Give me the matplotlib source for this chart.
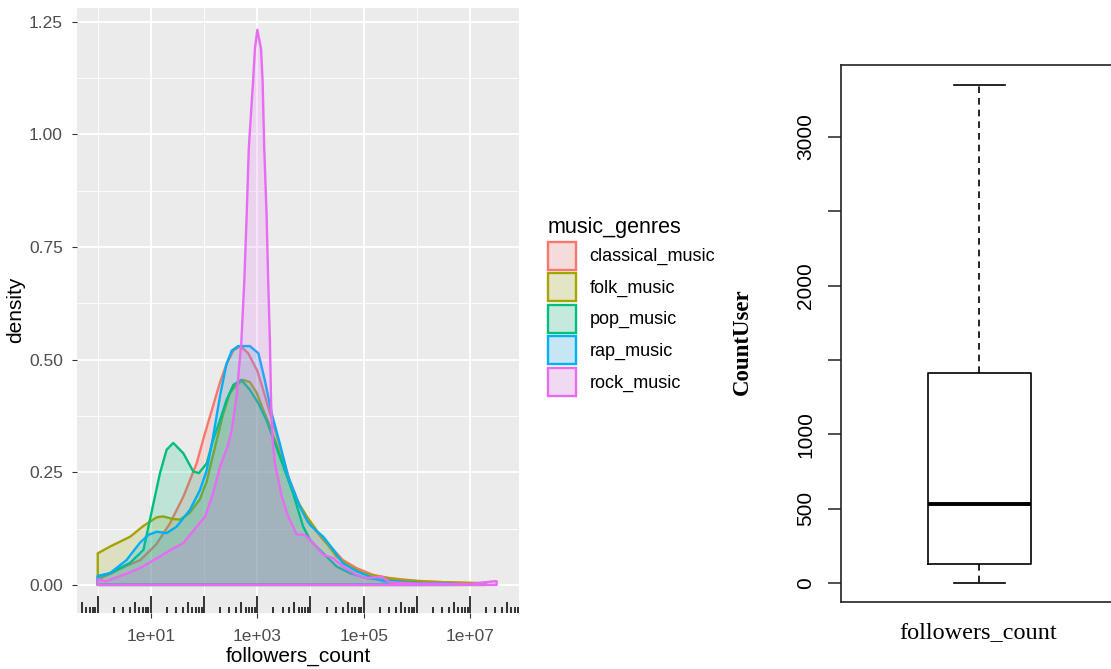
import matplotlib.pyplot as plt
import matplotlib.colors as mcolors
import matplotlib.transforms as mtransforms
from matplotlib.patches import Patch
from matplotlib.ticker import FixedLocator, NullFormatter
import numpy as np

plt.rcParams['font.family'] = ['Liberation Sans', 'DejaVu Sans']

genres = ['classical_music', 'folk_music', 'pop_music', 'rap_music', 'rock_music']
genre_colors = ['#F8766D', '#A3A500', '#00BF7D', '#00B0F6', '#E76BF3']

# density of followers_count per genre, x given as log10(followers_count)
classical_log = [0, 0.25, 0.5, 0.8, 1.1, 1.36, 1.61, 1.86, 2.0, 2.1, 2.2, 2.3, 2.42, 2.55,
                 2.68, 2.83, 3.0, 3.11, 3.24, 3.42, 3.6, 3.8, 4.0, 4.24, 4.43, 4.61, 4.87,
                 5.18, 5.5, 6.0, 6.5, 7.0, 7.3]
classical_dens = [0.012, 0.025, 0.04, 0.055, 0.09, 0.137, 0.196, 0.27, 0.33, 0.37, 0.41,
                  0.45, 0.49, 0.52, 0.53, 0.514, 0.475, 0.433, 0.38, 0.31, 0.235, 0.175,
                  0.135, 0.10, 0.078, 0.055, 0.037, 0.022, 0.015, 0.009, 0.006, 0.004, 0.003]

folk_log = [0, 0.23, 0.61, 0.86, 1.11, 1.23, 1.42, 1.55, 1.73, 1.92, 2.05, 2.11, 2.235,
            2.36, 2.485, 2.61, 2.74, 2.86, 2.99, 3.11, 3.24, 3.42, 3.61, 3.74, 3.93, 4.11,
            4.3, 4.49, 4.74, 4.99, 5.3, 5.68, 6.2, 6.8, 7.28]
folk_dens = [0.07, 0.085, 0.107, 0.131, 0.15, 0.152, 0.146, 0.145, 0.16, 0.19, 0.23, 0.26,
             0.32, 0.38, 0.426, 0.444, 0.455, 0.45, 0.426, 0.389, 0.352, 0.292, 0.228,
             0.189, 0.152, 0.122, 0.093, 0.063, 0.041, 0.026, 0.018, 0.011, 0.007, 0.005,
             0.004]

pop_log = [0, 0.23, 0.61, 0.86, 0.98, 1.075, 1.17, 1.295, 1.42, 1.61, 1.795, 1.9, 2.05,
           2.17, 2.3, 2.42, 2.55, 2.70, 2.86, 3.02, 3.17, 3.33, 3.49, 3.67, 3.86, 3.99,
           4.11, 4.3, 4.49, 4.74, 5.05, 5.37, 5.8, 6.1]
pop_dens = [0.018, 0.026, 0.049, 0.078, 0.144, 0.196, 0.248, 0.30, 0.315, 0.292, 0.252,
            0.248, 0.27, 0.322, 0.366, 0.41, 0.444, 0.455, 0.433, 0.403, 0.366, 0.315,
            0.263, 0.204, 0.13, 0.10, 0.085, 0.063, 0.041, 0.026, 0.015, 0.011, 0.006,
            0.004]

rap_log = [0, 0.23, 0.54, 0.79, 0.95, 1.11, 1.295, 1.48, 1.73, 1.92, 2.05, 2.17, 2.30,
           2.42, 2.52, 2.64, 2.86, 3.02, 3.14, 3.27, 3.42, 3.58, 3.80, 3.93, 4.0, 4.11,
           4.24, 4.43, 4.61, 4.87, 5.12, 5.37, 6.0, 6.68]
rap_dens = [0.02, 0.026, 0.055, 0.093, 0.111, 0.118, 0.115, 0.129, 0.166, 0.21, 0.255,
            0.33, 0.42, 0.49, 0.52, 0.53, 0.53, 0.514, 0.455, 0.381, 0.315, 0.24, 0.174,
            0.144, 0.132, 0.12, 0.107, 0.078, 0.048, 0.030, 0.018, 0.008, 0.004, 0.003]

rock_log = [0, 0.15, 0.48, 0.79, 1.11, 1.42, 1.61, 1.86, 2.02, 2.17, 2.30, 2.45, 2.52,
            2.61, 2.70, 2.755, 2.80, 2.84, 2.92, 2.955, 3.0, 3.07, 3.10, 3.13, 3.175,
            3.205, 3.237, 3.26, 3.29, 3.33, 3.46, 3.58, 3.74, 3.895, 4.05, 4.24, 4.43,
            4.61, 4.87, 5.05, 5.34, 5.49, 6.0, 7.0, 7.45, 7.5]
rock_dens = [0.012, 0.008, 0.022, 0.037, 0.059, 0.081, 0.093, 0.129, 0.152, 0.204, 0.263,
             0.31, 0.344, 0.418, 0.54, 0.673, 0.82, 0.97, 1.117, 1.19, 1.232, 1.19, 1.117,
             0.97, 0.82, 0.673, 0.54, 0.40, 0.32, 0.27, 0.196, 0.152, 0.112, 0.111, 0.093,
             0.067, 0.059, 0.041, 0.022, 0.015, 0.018, 0.006, 0.003, 0.002, 0.008, 0.008]

curve_logs = [classical_log, folk_log, pop_log, rap_log, rock_log]
curve_dens = [classical_dens, folk_dens, pop_dens, rap_dens, rock_dens]

x_breaks = [1e1, 1e3, 1e5, 1e7]
x_break_labels = ['1e+01', '1e+03', '1e+05', '1e+07']
y_breaks = [0.0, 0.25, 0.5, 0.75, 1.0, 1.25]

# boxplot of users per followers_count
box_whislo = 0
box_q1 = 125
box_med = 530
box_q3 = 1415
box_whishi = 3350
box_ticks = [0, 500, 1000, 1500, 2000, 2500, 3000]
box_tick_labels = ['0', '500', '1000', '', '2000', '', '3000']

W, H = 1111, 669
fig = plt.figure(figsize=(W / 100, H / 100), dpi=100)


def px_box(left, top, right, bottom):
    return [left / W, 1 - bottom / H, (right - left) / W, (bottom - top) / H]


# ---- density panel (ggplot look) ----
ax = fig.add_axes(px_box(77, 7.7, 519, 612.6))
ax.set_facecolor('#EBEBEB')
for side in ax.spines.values():
    side.set_visible(False)
ax.set_xscale('log')
ax.set_xlim(10 ** -0.39, 10 ** 7.92)
ax.set_ylim(-0.0615, 1.281)

ax.xaxis.set_major_locator(FixedLocator(x_breaks))
ax.set_xticklabels(x_break_labels)
ax.xaxis.set_minor_locator(FixedLocator([1e0, 1e2, 1e4, 1e6]))
ax.xaxis.set_minor_formatter(NullFormatter())
ax.set_yticks(y_breaks)
ax.set_yticklabels(['0.00', '0.25', '0.50', '0.75', '1.00', '1.25'])
ax.yaxis.set_minor_locator(FixedLocator([0.125, 0.375, 0.625, 0.875, 1.125]))
ax.grid(which='major', color='white', lw=1.3)
ax.grid(which='minor', color='white', lw=0.6)
ax.set_axisbelow(True)
ax.tick_params(which='major', length=3.6, width=0.8, color='#333333',
               labelcolor='#4D4D4D', labelsize=12.5)
ax.tick_params(axis='x', pad=8)
ax.tick_params(axis='y', pad=6.5)
ax.tick_params(which='minor', length=0)

for vals_log, vals_dens, col in zip(curve_logs, curve_dens, genre_colors):
    xs = np.concatenate([[vals_log[0]], vals_log, [vals_log[-1]]])
    ys = np.concatenate([[0], vals_dens, [0]])
    ax.fill(10 ** xs, ys, facecolor=mcolors.to_rgba(col, 0.18), edgecolor=col, lw=1.7,
            joinstyle='round')

# log tick marks along the bottom of the panel
panel_h = 612.6 - 7.7
trans = mtransforms.blended_transform_factory(ax.transData, ax.transAxes)
for k in range(-1, 8):
    for m in range(1, 10):
        v = m * 10.0 ** k
        if not (10 ** -0.39 <= v <= 10 ** 7.92):
            continue
        tick_len = 17 if m == 1 else (11 if m == 5 else 6)
        ax.plot([v, v], [0, tick_len / panel_h], transform=trans, color='black', lw=1.1,
                solid_capstyle='butt')

ax.set_xlabel('followers_count', fontsize=15, labelpad=2)
ax.set_ylabel('density', fontsize=15, labelpad=3)

# legend
bg = np.array(mcolors.to_rgb('#F2F2F2'))
handles = []
for col in genre_colors:
    key_fill = 0.82 * bg + 0.18 * np.array(mcolors.to_rgb(col))
    handles.append(Patch(facecolor=key_fill, edgecolor=col, lw=1.7))
fig.legend(handles, genres, title='music_genres', loc='upper left',
           bbox_to_anchor=(548 / W, 1 - 217 / H), frameon=False, fontsize=13,
           title_fontsize=15.5, handlelength=1.55, handleheight=2.0, labelspacing=0.2,
           handletextpad=0.75, borderaxespad=0, borderpad=0, alignment='left')

# ---- boxplot panel (base R look) ----
ax2 = fig.add_axes(px_box(840.7, 65, 1118, 602))
stats = [dict(whislo=box_whislo, q1=box_q1, med=box_med, q3=box_q3, whishi=box_whishi,
              fliers=[])]
ax2.bxp(stats, positions=[1], widths=0.4, capwidths=0.2, showfliers=False,
        manage_ticks=False,
        boxprops=dict(color='black', lw=1.2),
        medianprops=dict(color='black', lw=2.8, solid_capstyle='butt'),
        whiskerprops=dict(color='black', lw=1.2, linestyle=(0, (4, 3))),
        capprops=dict(color='black', lw=1.2))
ax2.set_xlim(0.46, 1.54)
ax2.set_ylim(-128, 3484)
ax2.set_xticks([])
ax2.set_yticks(box_ticks)
ax2.set_yticklabels(box_tick_labels, rotation=90, va='center')
ax2.tick_params(axis='y', length=9.5, width=1.1, labelsize=15, pad=9, color='#222222')
for side in ax2.spines.values():
    side.set_linewidth(1.2)
    side.set_color('#222222')

fig.text(742 / W, 1 - 342 / H, 'CountUser', rotation=90, ha='center', va='center',
         family='Liberation Serif', weight='bold', fontsize=16.5)
fig.text(978 / W, 1 - 633 / H, 'followers_count', ha='center', va='center',
         family='Liberation Serif', fontsize=17.5)

fig.savefig('out.png', dpi=100)
